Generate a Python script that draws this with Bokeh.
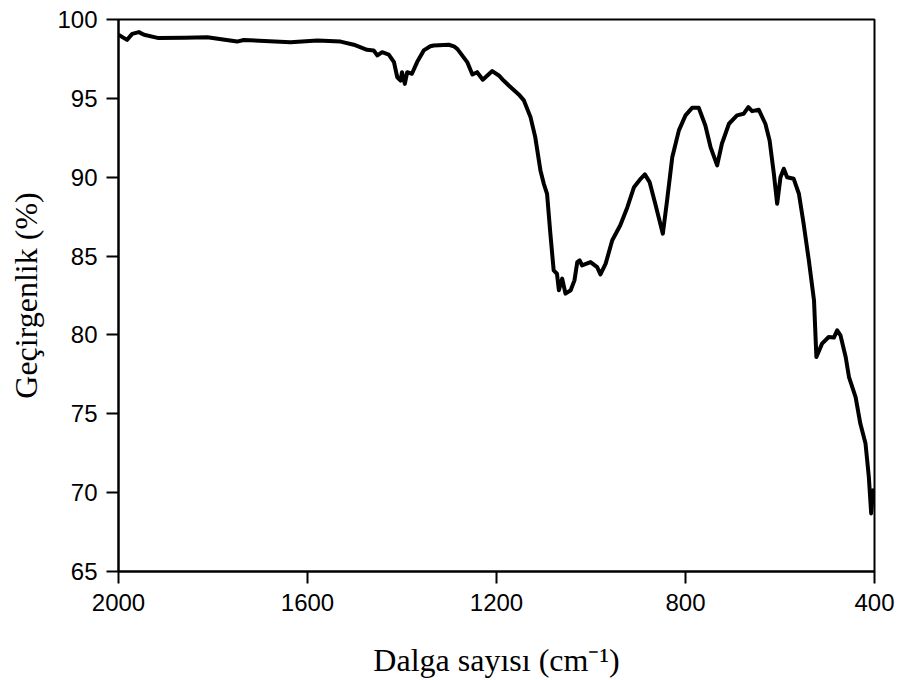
from bokeh.plotting import figure
from bokeh.models import Range1d, FixedTicker
from bokeh.embed import file_html
from bokeh.resources import INLINE

# Wavenumber (cm^-1) and transmittance (%)
wavenumber = [2000, 1990, 1982, 1971, 1957, 1946, 1915, 1860, 1812, 1749, 1735, 1636,
              1579, 1530, 1502, 1474, 1460, 1452, 1442, 1428, 1417, 1410, 1403, 1400,
              1394, 1389, 1379, 1368, 1354, 1340, 1333, 1301, 1290, 1283, 1262, 1251, 1241, 1229,
              1209, 1195, 1185, 1174, 1153, 1142, 1128, 1118, 1107, 1100, 1093, 1086, 1079,
              1072, 1068, 1061, 1054, 1043, 1035, 1029, 1024, 1019, 1001, 987, 980,
              969, 955, 938, 923, 909, 895, 886, 876, 864, 848, 839, 828, 814, 800,
              786, 772, 758, 747, 733, 723, 708, 691, 677, 667, 659, 645, 631, 622,
              613, 606, 599, 592, 585, 571, 560, 550, 539, 528, 523, 511, 497, 486,
              479, 472, 461, 454, 440, 430, 419, 412, 407, 403, 400]
transmittance = [99.03, 98.85, 98.71, 99.09, 99.2, 99.03, 98.82, 98.85, 98.88, 98.6, 98.7, 98.56,
                 98.67, 98.6, 98.4, 98.08, 98.04, 97.72, 97.93, 97.78, 97.3, 96.34, 96.13, 96.66,
                 95.92, 96.66, 96.56, 97.3, 98.04, 98.3, 98.35, 98.4, 98.3, 98.14, 97.3, 96.51, 96.66, 96.18,
                 96.73, 96.45, 96.13, 95.82, 95.25, 94.87, 93.81, 92.54, 90.43, 89.6, 88.95, 86.42, 84.09,
                 83.88, 82.83, 83.57, 82.62, 82.83, 83.46, 84.62, 84.73, 84.41, 84.62, 84.3, 83.84,
                 84.52, 86.0, 86.95, 88.1, 89.37, 89.9, 90.18, 89.69, 88.32, 86.42, 88.53, 91.27, 92.97, 93.92,
                 94.4, 94.4, 93.28, 91.91, 90.75, 92.12, 93.39, 93.92, 94.02, 94.44, 94.19, 94.28, 93.39, 92.33,
                 90.22, 88.32, 90.0, 90.54, 90.0, 89.9, 88.95, 87.05, 84.73, 82.19, 78.6, 79.45, 79.87, 79.83,
                 80.29, 79.97, 78.6, 77.33, 76.06, 74.38, 73.11, 71.0, 68.68, 70.15, 69.73]

x_ticks = [2000, 1600, 1200, 800, 400]
y_ticks = [65, 70, 75, 80, 85, 90, 95, 100]

p = figure(width=899, height=680, output_backend="svg", toolbar_location=None,
           x_range=Range1d(2000, 400), y_range=Range1d(65, 100),
           min_border_left=118, min_border_right=25, min_border_top=19, min_border_bottom=109)

p.line(wavenumber, transmittance, line_color="black", line_width=4, line_join="round")

p.grid.visible = False
p.outline_line_color = "black"
p.outline_line_width = 2
p.background_fill_color = "white"
p.border_fill_color = "white"

for ax in (p.xaxis[0], p.yaxis[0]):
    ax.axis_line_width = 2
    ax.axis_line_color = "black"
    ax.major_tick_line_width = 2
    ax.major_tick_line_color = "black"
    ax.major_tick_out = 12
    ax.major_tick_in = 0
    ax.minor_tick_line_color = None
    ax.major_label_text_font = "Liberation Sans"
    ax.major_label_text_font_size = "24px"
    ax.major_label_text_color = "black"
    ax.axis_label_text_font = "Liberation Serif"
    ax.axis_label_text_font_size = "32px"
    ax.axis_label_text_font_style = "normal"
    ax.axis_label_text_color = "black"

p.xaxis.ticker = FixedTicker(ticks=x_ticks)
p.yaxis.ticker = FixedTicker(ticks=y_ticks)
p.xaxis.axis_label = "Dalga sayısı (cm⁻¹)"
p.yaxis.axis_label = "Geçirgenlik (%)"
p.xaxis.major_label_standoff = 10
p.yaxis.major_label_standoff = 9
p.xaxis.axis_label_standoff = 28
p.yaxis.axis_label_standoff = 10

open("out.html", "w").write(file_html(p, INLINE))
